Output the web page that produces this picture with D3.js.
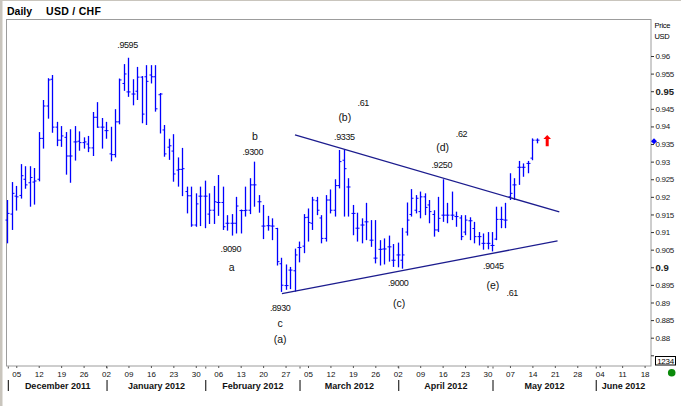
<!DOCTYPE html>
<html lang="en">
<head>
<meta charset="UTF-8">
<title>USD / CHF Daily</title>
<style>
  body { margin: 0; background: #fff; }
  svg { display: block; font-family: "Liberation Sans", Arial, sans-serif; }
</style>
</head>
<body>
<div id="root"></div>
<script src="https://d3js.org/d3.v7.min.js"></script>
<script>
// Daily bars, one per weekday starting 2011-12-01
const firstDay = "2011-12-01"
const lastAxisDay = "2012-06-22"

const open = [.9134,.9151,.9202,.9204,.9250,.9240,.9242,.9250,.9366,.9458,
  .9534,.9398,.9361,.9369,.9316,.9356,.9358,.9354,.9350,.9339,
  .9426,.9398,.9388,.9322,.9320,.9413,.9522,.9498,.9492,.9500,
  .9540,.9541,.9546,.9541,.9490,.9390,.9341,.9330,.9276,.9278,
  .9215,.9203,.9120,.9202,.9202,.9151,.9162,.9184,.9184,.9125,
  .9125,.9125,.9161,.9161,.9162,.9234,.9186,.9117,.9118,.9117,
  .9110,.9010,.8948,.8992,.8990,.9056,.9060,.9142,.9125,.9189,
  .9140,.9082,.9191,.9162,.9232,.9304,.9228,.9153,.9111,.9120,
  .9129,.9077,.9026,.9051,.9052,.9058,.9020,.9035,.9020,.9100,
  .9150,.9162,.9158,.9200,.9177,.9150,.9106,.9148,.9148,.9148,
  .9144,.9140,.9100,.9132,.9110,.9087,.9068,.9068,.9062,.9080,
  .9136,.9134,.9200,.9234,.9284,.9284,.9295,.9310,.9361]
const high = [.9191,.9242,.9231,.9293,.9287,.9287,.9282,.9384,.9475,.9537,
  .9546,.9413,.9401,.9384,.9392,.9401,.9386,.9369,.9373,.9441,
  .9469,.9424,.9413,.9399,.9449,.9536,.9577,.9595,.9534,.9569,
  .9543,.9574,.9574,.9574,.9495,.9404,.9365,.9378,.9312,.9339,
  .9229,.9229,.9210,.9229,.9246,.9210,.9231,.9262,.9229,.9148,
  .9151,.9200,.9164,.9229,.9253,.9300,.9205,.9177,.9146,.9139,
  .9112,.9027,.9008,.9001,.9053,.9073,.9151,.9167,.9200,.9200,
  .9148,.9205,.9221,.9250,.9333,.9335,.9253,.9177,.9155,.9139,
  .9183,.9134,.9134,.9077,.9082,.9090,.9066,.9070,.9112,.9184,
  .9222,.9205,.9215,.9210,.9191,.9162,.9200,.9250,.9183,.9215,
  .9158,.9148,.9148,.9142,.9129,.9100,.9096,.9100,.9100,.9172,
  .9172,.9183,.9267,.9253,.9302,.9295,.9302,.9366,.9366]
const low = [.9068,.9106,.9161,.9195,.9223,.9172,.9178,.9244,.9337,.9422,
  .9382,.9344,.9342,.9263,.9240,.9303,.9331,.9337,.9327,.9316,
  .9396,.9337,.9365,.9301,.9312,.9406,.9501,.9484,.9460,.9475,
  .9409,.9404,.9522,.9442,.9380,.9314,.9305,.9243,.9229,.9202,
  .9153,.9115,.9115,.9117,.9111,.9123,.9123,.9146,.9106,.9104,
  .9090,.9096,.9096,.9144,.9151,.9172,.9155,.9080,.9104,.9077,
  .9005,.8930,.8936,.8938,.8931,.9014,.9040,.9073,.9106,.9148,
  .9068,.9073,.9153,.9144,.9224,.9144,.9144,.9091,.9073,.9068,
  .9077,.9058,.9011,.9005,.9008,.9016,.9001,.9000,.8996,.9090,
  .9144,.9153,.9139,.9148,.9125,.9087,.9100,.9129,.9125,.9134,
  .9115,.9077,.9091,.9077,.9068,.9062,.9050,.9051,.9045,.9077,
  .9111,.9111,.9191,.9191,.9234,.9257,.9267,.9304,.9352]
const close = [.9153,.9210,.9200,.9260,.9234,.9255,.9245,.9366,.9458,.9532,
  .9398,.9361,.9373,.9316,.9316,.9356,.9354,.9356,.9339,.9426,
  .9398,.9398,.9388,.9320,.9413,.9532,.9549,.9498,.9492,.9540,
  .9435,.9528,.9541,.9450,.9492,.9322,.9345,.9265,.9278,.9280,
  .9203,.9120,.9180,.9202,.9202,.9162,.9186,.9184,.9115,.9125,
  .9125,.9174,.9161,.9162,.9234,.9234,.9186,.9117,.9118,.9117,
  .9016,.8949,.8948,.8992,.9035,.9056,.9141,.9127,.9191,.9162,
  .9082,.9191,.9162,.9232,.9300,.9280,.9228,.9153,.9111,.9120,
  .9129,.9077,.9026,.9051,.9052,.9058,.9020,.9035,.9035,.9134,
  .9196,.9196,.9200,.9170,.9158,.9106,.9139,.9148,.9148,.9148,
  .9144,.9087,.9134,.9132,.9087,.9087,.9068,.9068,.9062,.9136,
  .9136,.9134,.9210,.9234,.9284,.9284,.9295,.9361,.9361]

const priceTicks = [0.96,0.955,0.95,0.945,0.94,0.935,0.93,0.925,0.92,0.915,
  0.91,0.905,0.9,0.895,0.89,0.885,0.88,0.875]
const boldTicks = [0.95, 0.9]
const months = ["December 2011","January 2012","February 2012","March 2012",
  "April 2012","May 2012","June 2012"]

// wave labels: [text, trading day index, price]
const waveLabels = [
  [".9595", 26.8, .9632], ["b", 55.2, .9373], [".9300", 54.7, .9327],
  [".9090", 49.8, .9051], ["a", 50.0, .8999], [".8930", 60.8, .8886],
  ["c", 60.8, .8841], ["(a)", 60.8, .8795], [".9335", 75.1, .9371],
  ["(b)", 75.2, .9426], [".61", 79.3, .9467], [".9000", 87.1, .8956],
  ["(c)", 87.3, .8898], [".9250", 96.8, .9290], ["(d)", 97.0, .9342],
  [".62", 101.2, .9378], [".9045", 108.3, .9003], ["(e)", 108.2, .8949],
  [".61", 112.5, .8928]
]
// triangle lines: [[index, price], [index, price]]
const upperLine = [[64.1, .9376], [123.0, .9157]]
const lowerLine = [[61.2, .8925], [122.6, .9075]]
const arrowAt = [120.3, .9344, .9376]
const lastPrice = .9358

const W = 681, H = 406
const frame = {left: 6.5, top: 19.5, right: 651, bottom: 366}

const svg = d3.select("#root").append("svg")
  .attr("width", W).attr("height", H)

svg.append("rect").attr("width", W).attr("height", H).attr("fill", "#fff")
svg.append("rect").attr("x", 0).attr("y", 0).attr("width", 2.5).attr("height", H).attr("fill", "#c9c5bd")
svg.append("rect").attr("x", 0).attr("y", 0).attr("width", W).attr("height", 1).attr("fill", "#c9c5bd")

// trading days (weekdays only)
const parse = d3.timeParse("%Y-%m-%d")
const days = d3.timeDay.range(parse(firstDay), d3.timeDay.offset(parse(lastAxisDay), 1))
  .filter(d => d.getDay() !== 0 && d.getDay() !== 6)

const x = d3.scaleLinear().domain([0, 142]).range([7.3, 7.3 + 142 * 4.488])
const y = d3.scaleLinear().domain([0.88, 0.96]).range([337.7, 56])

svg.append("text").attr("x", 7).attr("y", 15)
  .attr("font-size", 10.5).attr("font-weight", "bold").text("Daily")
svg.append("text").attr("x", 46).attr("y", 15)
  .attr("font-size", 10.5).attr("font-weight", "bold").attr("letter-spacing", 0.3).text("USD / CHF")

svg.append("rect")
  .attr("x", frame.left).attr("y", frame.top)
  .attr("width", frame.right - frame.left).attr("height", frame.bottom - frame.top)
  .attr("fill", "none").attr("stroke", "#9c9c9c").attr("stroke-width", 1)

// price axis on the right
const yAxis = d3.axisRight(y).tickValues(priceTicks).tickSize(3).tickPadding(1.5)
  .tickFormat(d => d === 0.875 ? "" : String(d))
const yg = svg.append("g").attr("transform", `translate(${frame.right},0)`).call(yAxis)
yg.select(".domain").remove()
yg.selectAll("line").attr("stroke", "#333")
yg.selectAll("text").attr("font-family", "Liberation Sans, Arial, sans-serif")
  .attr("font-size", d => boldTicks.includes(d) ? 9.5 : 8)
  .attr("font-weight", d => boldTicks.includes(d) ? "bold" : "normal")
  .attr("letter-spacing", d => boldTicks.includes(d) ? 0 : -0.3)
  .attr("fill", "#222")

svg.append("text").attr("x", 654.5).attr("y", 27.5).attr("font-size", 7.5).attr("letter-spacing", -0.3).text("Price")
svg.append("text").attr("x", 654.5).attr("y", 39).attr("font-size", 7.5).attr("letter-spacing", -0.3).text("USD")

svg.append("rect").attr("x", 655.5).attr("y", 356.5).attr("width", 20).attr("height", 8.5)
  .attr("fill", "#fff").attr("stroke", "#000").attr("stroke-width", 1)
svg.append("text").attr("x", 665.5).attr("y", 363.8).attr("text-anchor", "middle")
  .attr("font-size", 8).attr("letter-spacing", -0.3).text("1234")
svg.append("circle").attr("cx", 671.7).attr("cy", 372.8).attr("r", 3.8).attr("fill", "#0a8a0a")

// date axis
const mondays = days.map((d, i) => d.getDay() === 1 ? i : -1).filter(i => i >= 0)
const xAxis = d3.axisBottom(x).tickValues(mondays).tickSize(2).tickPadding(3)
  .tickFormat(i => d3.timeFormat("%d")(days[i]))
const xg = svg.append("g").attr("transform", `translate(0,${frame.bottom})`).call(xAxis)
xg.select(".domain").remove()
xg.selectAll("line").attr("stroke", "#555")
xg.selectAll("text").attr("font-family", "Liberation Sans, Arial, sans-serif")
  .attr("font-size", 8).attr("fill", "#111")

const monthStarts = days.map((d, i) => (i === 0 || days[i - 1].getMonth() !== d.getMonth()) ? i : -1)
  .filter(i => i >= 0)
monthStarts.forEach((i, k) => {
  const x0 = x(i) + 1
  const x1 = k + 1 < monthStarts.length ? x(monthStarts[k + 1]) + 1 : frame.right
  svg.append("line").attr("x1", x0).attr("x2", x0).attr("y1", 380).attr("y2", 391)
    .attr("stroke", "#000").attr("stroke-width", 1)
  svg.append("line").attr("x1", x0).attr("x2", x0).attr("y1", 366.5).attr("y2", 368.5)
    .attr("stroke", "#555").attr("stroke-width", 1)
  svg.append("text").attr("x", (x0 + x1) / 2).attr("y", 389).attr("text-anchor", "middle")
    .attr("font-size", 9).attr("font-weight", "bold").attr("fill", "#111").text(months[k])
})

// OHLC bars
const bars = svg.append("g").attr("stroke", "#0000ff")
open.forEach((o, i) => {
  const cx = Math.round(x(i)) + 0.5
  bars.append("line").attr("x1", cx).attr("x2", cx).attr("y1", y(high[i])).attr("y2", y(low[i]))
    .attr("stroke-width", 1.3)
  bars.append("line").attr("x1", cx - 2).attr("x2", cx).attr("y1", y(o)).attr("y2", y(o))
    .attr("stroke-width", 1)
  bars.append("line").attr("x1", cx).attr("x2", cx + 2).attr("y1", y(close[i])).attr("y2", y(close[i]))
    .attr("stroke-width", 1)
})

// triangle
const line = d3.line().x(d => x(d[0])).y(d => y(d[1]))
svg.append("path").attr("d", line(upperLine)).attr("fill", "none")
  .attr("stroke", "#1c1c8e").attr("stroke-width", 1.3)
svg.append("path").attr("d", line(lowerLine)).attr("fill", "none")
  .attr("stroke", "#1c1c8e").attr("stroke-width", 1.3)

// wave labels
svg.append("g").selectAll("text").data(waveLabels).join("text")
  .attr("x", d => x(d[1])).attr("y", d => y(d[2])).attr("dy", "0.35em")
  .attr("text-anchor", "middle")
  .attr("font-size", d => d[0].startsWith(".") ? 9 : 10.5)
  .attr("letter-spacing", d => d[0].startsWith(".") ? -0.4 : 0)
  .attr("fill", "#111")
  .text(d => d[0])

// red up arrow
const ax = x(arrowAt[0]), ayb = y(arrowAt[1]), ayt = y(arrowAt[2])
svg.append("path")
  .attr("d", `M${ax - 1.5},${ayb} L${ax - 1.5},${ayt + 4} L${ax - 3.8},${ayt + 4} L${ax},${ayt} L${ax + 3.8},${ayt + 4} L${ax + 1.5},${ayt + 4} L${ax + 1.5},${ayb} Z`)
  .attr("fill", "#f00")

// last price marker on axis
const my = y(lastPrice)
svg.append("path")
  .attr("d", `M${frame.right + 3},${my - 3} L${frame.right + 6},${my} L${frame.right + 3},${my + 3} L${frame.right},${my} Z`)
  .attr("fill", "#0000ff")
</script>
</body>
</html>
